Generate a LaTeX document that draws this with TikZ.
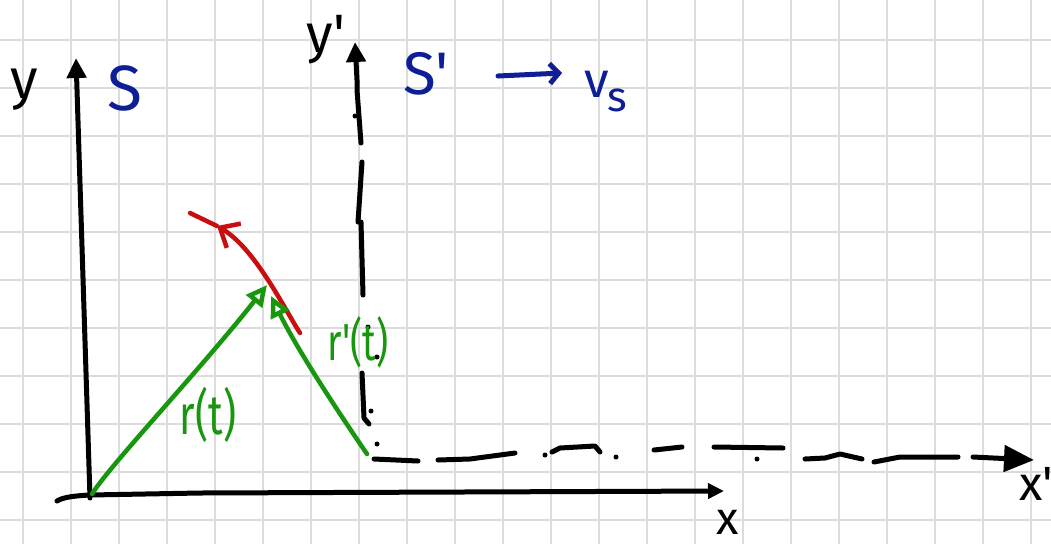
\documentclass[tikz,border=0pt]{standalone}
\usepackage{fontspec}
\setmainfont{Fira Sans}
\usetikzlibrary{arrows.meta}
\definecolor{gridgray}{RGB}{220,220,220}
\definecolor{inkblue}{RGB}{14,30,150}
\definecolor{inkgreen}{RGB}{24,150,14}
\definecolor{inkred}{RGB}{200,14,14}
\newcommand{\fs}[1]{\fontsize{#1}{#1}\selectfont}
\begin{document}
\begin{tikzpicture}[x=1pt,y=-1pt,
  ink/.style={line width=5pt,line cap=round,line join=round},
  axis/.style={ink,black},
  lbl/.style={inner sep=0pt},
  dot/.style={black},
  gridline/.style={gridgray,line width=2pt}]
\useasboundingbox (0,0) rectangle (1051,544);
\fill[white] (0,0) rectangle (1051,544);
\foreach \i in {0,...,21} \draw[gridline] ({22.7+48*\i},0) -- ({22.7+48*\i},544);
\foreach \j in {0,...,10} \draw[gridline] (0,{40+48*\j}) -- (1051,{40+48*\j});

% coordinates
\coordinate (O) at (90,498);
\coordinate (yTop) at (76,58);
\coordinate (xStart) at (57,501);
\coordinate (xEnd) at (724,491);
\coordinate (Op) at (369,424);
\coordinate (ypTop) at (355,42);
\coordinate (xpStart) at (374,459);
\coordinate (xpEnd) at (1034,460);
\coordinate (rStart) at (92,494);
\coordinate (rTip) at (267,285);
\coordinate (rpStart) at (367,454);
\coordinate (rpTip) at (271,296);
\coordinate (redStart) at (300,333);
\coordinate (redHead) at (217,226);
\coordinate (redEnd) at (190,213);
\coordinate (arrS) at (498,76);
\coordinate (arrE) at (562,73);

% frame S
\draw[axis,-{Triangle[length=20pt,width=19pt]}] (O) -- (yTop);
\draw[axis,-{Triangle[length=16pt,width=15pt]}] (xStart) .. controls (62,498) and (70,496) .. (90,495) -- (200,493) -- (xEnd);

% frame S' (hand-dashed axes)
\draw[axis,-{Triangle[length=20pt,width=19pt]}]
  (Op) -- (364,418) -- (362,373)
  (363,295) -- (361,222)
  (358,222) -- (362,162)
  (361,143) -- (357,90) -- (357,80) -- (ypTop);
\draw[axis,-{Triangle[length=30pt,width=26pt]}]
  (xpStart) -- (418,461)
  (438,460) -- (470,459) -- (515,453)
  (552,452) -- (560,448) -- (595,446) -- (600,452)
  (654,450) -- (682,447)
  (714,447) -- (783,448)
  (805,459) -- (825,458) -- (840,454) -- (862,459)
  (874,462) -- (900,457) -- (958,457)
  (973,457) -- (xpEnd);

% dots
\foreach \p in {(355,116),(368,327),(377,357),(371,411),(377,444),(545,455),(616,457),(757,459)}
  \fill[dot] \p circle (2.5pt);

% trajectory
\draw[ink,line width=4.5pt,inkred,-{Straight Barb[length=16pt,width=28pt]}] (redStart) .. controls (285,310) and (255,248) .. (redHead);
\draw[ink,line width=4.5pt,inkred] (redHead) -- (redEnd);

% position vectors
\draw[ink,line width=4.5pt,inkgreen,-{Triangle[open,length=21pt,width=20pt]}] (rStart) .. controls (110,465) and (200,370) .. (rTip);
\draw[ink,line width=4.5pt,inkgreen,-{Triangle[open,length=21pt,width=20pt]}] (rpStart) .. controls (330,400) and (295,345) .. (rpTip);

% velocity arrow
\draw[ink,inkblue,-{Straight Barb[length=9pt,width=20pt]}] (arrS) -- (arrE);

% labels
\node[lbl,font=\fs{56}] (ylab) at (24,90) {y};
\node[lbl,font=\fs{64},text=inkblue] (Slab) at (125,88) {S};
\node[lbl,font=\fs{54}] (yplab) at (326,40) {y\textquotesingle};
\node[lbl,font=\fs{60},text=inkblue] (Splab) at (426,74) {S\textquotesingle};
\node[lbl,font=\fs{50},text=inkblue] (vslab) at (606,92) {v\kern-2pt\raisebox{-14pt}{\fs{42}s}};
\node[lbl,font=\fs{56},text=inkgreen] (rlab) at (208,415) {\scalebox{0.72}[1]{r(t)}};
\node[lbl,font=\fs{52},text=inkgreen] (rplab) at (358,342) {\scalebox{0.72}[1]{r\textquotesingle(t)}};
\node[lbl,font=\fs{46}] (xlab) at (728,522) {x};
\node[lbl,font=\fs{48}] (xplab) at (1036,484) {x\textquotesingle};
\end{tikzpicture}
\end{document}
